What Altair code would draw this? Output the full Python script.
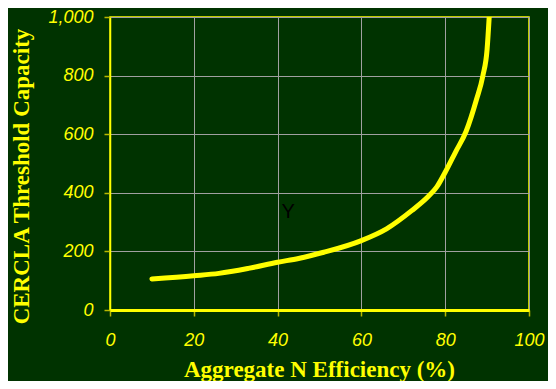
import altair as alt
import pandas as pd

# Curve
efficiency = [10, 20, 26, 33, 40, 45, 51, 60, 66, 72, 76, 78, 80, 82.5, 85, 87.5, 89, 90, 90.5]
capacity = [106, 117, 125, 142, 163, 176, 197, 237, 277, 339, 388, 420, 470, 540, 610, 720, 800, 890, 1000]

x_ticks = [0, 20, 40, 60, 80, 100]
y_ticks = [0, 200, 400, 600, 800, 1000]

note_text = ["Y"]
note_x = [42.5]
note_y = [336]

curve = pd.DataFrame({"eff": efficiency, "cap": capacity})
note = pd.DataFrame({"eff": note_x, "cap": note_y, "t": note_text})

YEL = "#ffff00"
BG = "#003300"

x_enc = alt.X(
    "eff:Q",
    scale=alt.Scale(domain=[0, 100], nice=False),
    axis=alt.Axis(
        values=x_ticks,
        format="d",
        title="Aggregate N Efficiency (%)",
        titleX=209,
        titleY=66,
        titleAlign="center",
        titleBaseline="alphabetic",
        labelPadding=15,
        domainWidth=3,
        labelFlush=False,
    ),
)
y_enc = alt.Y(
    "cap:Q",
    scale=alt.Scale(domain=[0, 1000], nice=False),
    axis=alt.Axis(
        values=y_ticks,
        format=",.0f",
        title="CERCLA Threshold Capacity",
        titleX=-82,
        titleY=159,
        titleAngle=270,
        titleAlign="center",
        titleBaseline="alphabetic",
        labelPadding=11,
        domainWidth=1.5,
    ),
)

line = alt.Chart(curve).mark_line(
    color=YEL, strokeWidth=5, strokeCap="round", strokeJoin="round",
    interpolate="monotone", clip=True
).encode(x=x_enc, y=y_enc, order=alt.Order("eff:Q"))

label = alt.Chart(note).mark_text(
    color="#000000", font="Liberation Sans", fontSize=20, align="center", baseline="middle"
).encode(x="eff:Q", y="cap:Q", text="t:N")

chart = (
    alt.layer(line, label)
    .properties(
        width=419,
        height=293,
        padding={"left": 102, "top": 9, "right": 19, "bottom": 71},
        autosize=alt.AutoSizeParams(type="none"),
        background=BG,
    )
    .configure_view(stroke=YEL, strokeWidth=1.5, fill=BG)
    .configure_axis(
        gridColor="#a0a0a0",
        gridWidth=1,
        domainColor=YEL,
        tickColor="#b8b800",
        tickSize=6,
        tickWidth=1.5,
        labelColor=YEL,
        labelFont="Liberation Sans",
        labelFontStyle="italic",
        labelFontSize=18,
        titleColor=YEL,
        titleFont="Liberation Serif",
        titleFontWeight="bold",
        titleFontSize=23,
    )
)

chart.save("out.html", embed_options={"renderer": "svg", "actions": False})
